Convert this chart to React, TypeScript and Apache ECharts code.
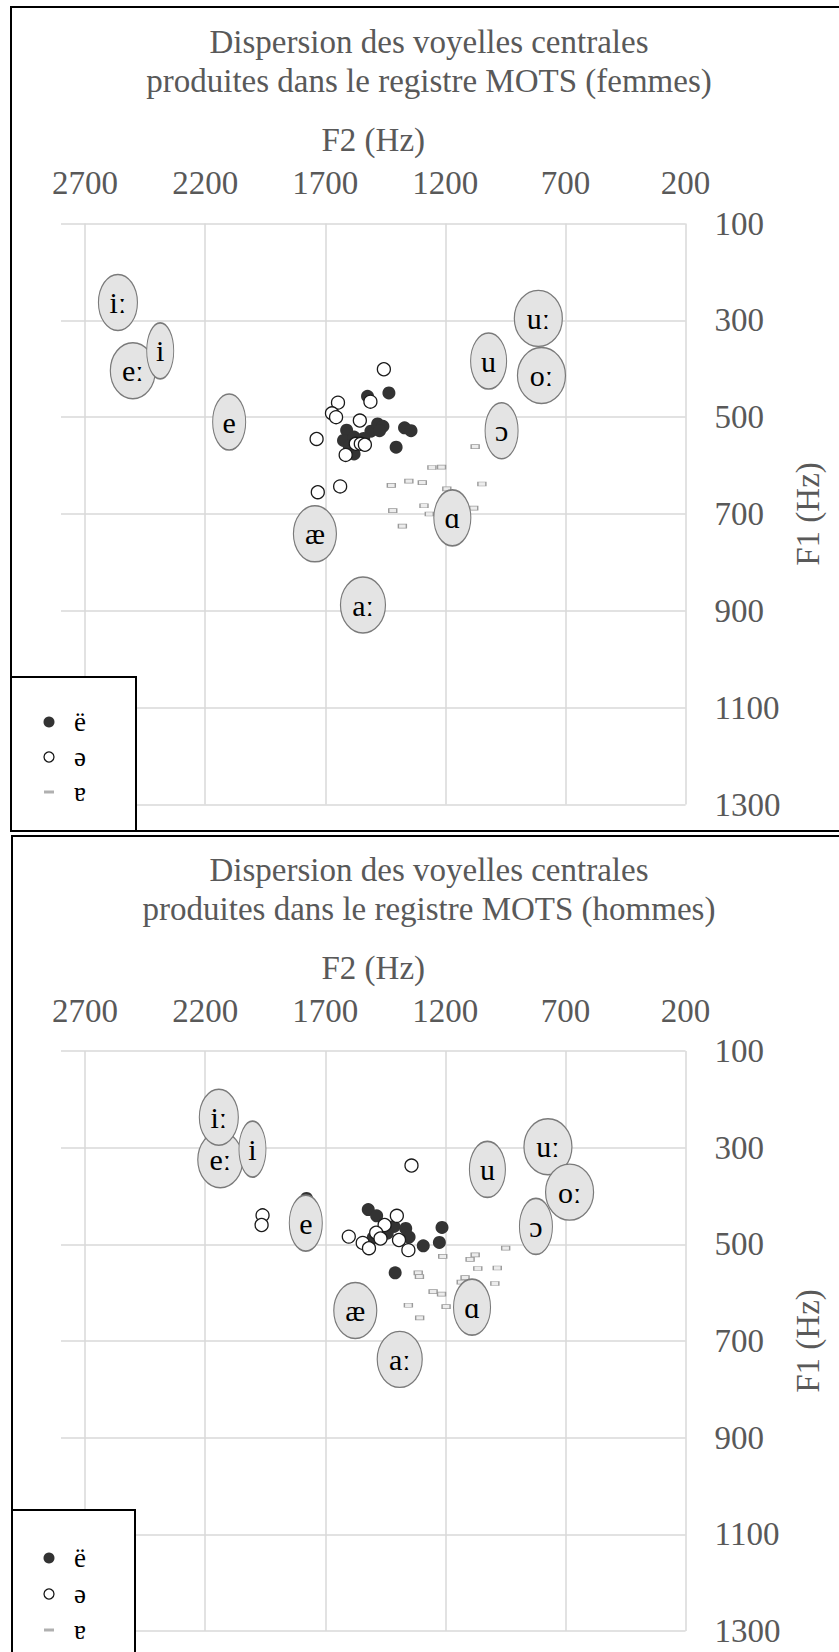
import React, { useEffect, useRef } from 'react';
import * as echarts from 'echarts';

// ---------- data ----------
const xTicks = [200, 700, 1200, 1700, 2200, 2700];
const yTicks = [100, 300, 500, 700, 900, 1100, 1300];
const chartTitles = [
  'Dispersion des voyelles centrales\nproduites dans le registre MOTS (femmes)',
  'Dispersion des voyelles centrales\nproduites dans le registre MOTS (hommes)',
];
const seriesNames = ['ë', 'ə', 'ɐ'];

// [F2, F1] in Hz
const femmesE = [[1435, 450], [1524, 457], [1611, 527], [1624, 548], [1580, 541], [1580, 576], [1510, 529], [1482, 514], [1460, 519], [1474, 528], [1370, 522], [1343, 528], [1405, 562], [1540, 544], [1600, 560]];
const femmesSchwa = [[1456, 401], [1647, 470], [1672, 492], [1655, 500], [1512, 468], [1556, 507], [1736, 545], [1573, 555], [1552, 555], [1535, 557], [1615, 578], [1731, 655], [1638, 643]];
const femmesTurnedA = [[1076, 561], [1256, 604], [1216, 603], [1425, 641], [1352, 632], [1296, 635], [1194, 648], [1048, 638], [1289, 683], [1419, 693], [1267, 700], [1082, 688], [1379, 725]];

const hommesE = [[1521, 428], [1486, 441], [1414, 463], [1365, 467], [1351, 485], [1214, 465], [1225, 496], [1292, 503], [1409, 559], [1442, 477], [1500, 486], [1778, 405]];
const hommesSchwa = [[1961, 440], [1965, 460], [1341, 337], [1602, 484], [1402, 441], [1453, 460], [1488, 476], [1544, 497], [1518, 508], [1470, 488], [1393, 491], [1354, 512]];
const hommesTurnedA = [[1211, 525], [1076, 522], [1097, 531], [949, 508], [1065, 550], [984, 549], [1313, 559], [1308, 567], [1118, 569], [1134, 578], [994, 581], [1251, 598], [1216, 603], [1354, 626], [1197, 629], [1307, 652]];

const vowelLabels = ['eː', 'iː', 'i', 'e', 'æ', 'aː', 'ɑ', 'ɔ', 'u', 'uː', 'oː'];
const femmesVowelF2 = [2501, 2563, 2387, 2100, 1743, 1543, 1171, 966, 1020, 813, 800];
const femmesVowelF1 = [404, 263, 363, 510, 741, 888, 708, 528, 384, 296, 414];
const hommesVowelF2 = [2137, 2143, 2003, 1781, 1575, 1390, 1089, 823, 1025, 773, 683];
const hommesVowelF1 = [325, 237, 303, 456, 637, 738, 630, 463, 345, 298, 392];

// ---------- styles ----------
const FONT = '"Liberation Serif", "Times New Roman", Times, serif';
const GRAY = '#595959';
const GRID_COLOR = '#d9d9d9';
const ellipseWidth: Record<string, number> = {
  'eː': 45, 'iː': 39, 'i': 27, 'e': 33, 'æ': 43, 'aː': 45, 'ɑ': 37, 'ɔ': 33, 'u': 36, 'uː': 48, 'oː': 48,
};
const ELLIPSE_H = 56;
const ELLIPSE_PATH = 'path://M0,50A50,50 0 1 1 100,50A50,50 0 1 1 0,50Z';

const grids = [
  { left: 61, top: 223.5, width: 624.6, height: 581 },
  { left: 61, top: 1051, width: 624.6, height: 580 },
];
const titleTops = [22, 850];
const frames = [
  { x: 11, y: 7, width: 900, height: 824 },
  { x: 12, y: 836, width: 900, height: 900 },
];
const legendBoxes = [
  { x: 11, y: 677, width: 125, height: 154, items: [722, 757, 792] },
  { x: 12, y: 1510, width: 123, height: 160, items: [1558, 1594, 1630] },
];

const datasets = [
  { e: femmesE, schwa: femmesSchwa, turned: femmesTurnedA, vf2: femmesVowelF2, vf1: femmesVowelF1 },
  { e: hommesE, schwa: hommesSchwa, turned: hommesTurnedA, vf2: hommesVowelF2, vf1: hommesVowelF1 },
];

function buildOption() {
  const axisText = { fontFamily: FONT, fontSize: 33, color: GRAY, lineHeight: 33 };
  const plain = (v: number) => String(v);
  const xAxis = grids.map((_, i) => ({
    type: 'value', gridIndex: i, position: 'top', inverse: true,
    min: 200, max: 2800, interval: 500,
    name: 'F2 (Hz)', nameLocation: 'middle', nameGap: 67,
    nameTextStyle: { ...axisText },
    axisLine: { show: false },
    axisTick: { show: false, customValues: xTicks },
    axisLabel: { ...axisText, margin: 24, customValues: xTicks, formatter: plain },
    splitLine: { show: true, lineStyle: { color: GRID_COLOR, width: 1.5 } },
  }));
  const yAxis = grids.map((_, i) => ({
    type: 'value', gridIndex: i, position: 'right', inverse: true,
    min: 100, max: 1300, interval: 200,
    name: 'F1 (Hz)', nameLocation: 'middle', nameGap: 104, nameRotate: 90,
    nameTextStyle: { ...axisText },
    axisLine: { show: false },
    axisTick: { show: false, customValues: yTicks },
    axisLabel: { ...axisText, margin: 29, customValues: yTicks, formatter: plain },
    splitLine: { show: true, lineStyle: { color: GRID_COLOR, width: 1.5 } },
  }));

  const series: any[] = [];
  datasets.forEach((d, i) => {
    series.push({
      type: 'scatter', name: seriesNames[0], xAxisIndex: i, yAxisIndex: i,
      symbol: 'circle', symbolSize: 13, data: d.e,
      itemStyle: { color: '#333333', opacity: 1 },
    });
    series.push({
      type: 'scatter', name: seriesNames[1], xAxisIndex: i, yAxisIndex: i,
      symbol: 'circle', symbolSize: 13, data: d.schwa,
      itemStyle: { color: '#ffffff', borderColor: '#1a1a1a', borderWidth: 1.3, opacity: 1 },
    });
    series.push({
      type: 'scatter', name: seriesNames[2], xAxisIndex: i, yAxisIndex: i,
      symbol: 'rect', symbolSize: [8, 4], data: d.turned,
      itemStyle: { color: '#ececec', borderColor: '#9a9a9a', borderWidth: 1, opacity: 1 },
    });
    series.push({
      type: 'scatter', name: 'voyelles', xAxisIndex: i, yAxisIndex: i,
      symbol: ELLIPSE_PATH, symbolKeepAspect: false,
      data: vowelLabels.map((l, k) => ({
        name: l, value: [d.vf2[k], d.vf1[k]], symbolSize: [ellipseWidth[l], ELLIPSE_H],
      })),
      itemStyle: { color: '#e4e4e4', borderColor: '#7a7a7a', borderWidth: 1.3, opacity: 1 },
      label: {
        show: true, position: 'inside', formatter: '{b}',
        fontFamily: FONT, fontSize: 30, color: '#000000',
      },
    });
  });

  const graphic: any[] = [];
  frames.forEach((f) => {
    graphic.push({
      type: 'rect', silent: true, z: 50,
      shape: { x: f.x, y: f.y, width: f.width, height: f.height },
      style: { fill: 'none', stroke: '#000000', lineWidth: 2 },
    });
  });
  legendBoxes.forEach((b) => {
    graphic.push({
      type: 'rect', silent: true, z: 60,
      shape: { x: b.x, y: b.y, width: b.width, height: b.height },
      style: { fill: '#ffffff', stroke: '#000000', lineWidth: 2 },
    });
    const [y0, y1, y2] = b.items;
    graphic.push({ type: 'circle', silent: true, z: 61, shape: { cx: 49, cy: y0, r: 5.5 }, style: { fill: '#333333' } });
    graphic.push({ type: 'circle', silent: true, z: 61, shape: { cx: 49, cy: y1, r: 5 }, style: { fill: '#ffffff', stroke: '#1a1a1a', lineWidth: 1.3 } });
    graphic.push({ type: 'rect', silent: true, z: 61, shape: { x: 44, y: y2 - 1.5, width: 10, height: 3 }, style: { fill: '#b0b0b0' } });
    b.items.forEach((cy, k) => {
      graphic.push({
        type: 'text', silent: true, z: 61, x: 74, y: cy,
        style: { text: seriesNames[k], fontFamily: FONT, fontSize: 27, fill: '#000000', align: 'left', verticalAlign: 'middle' },
      });
    });
  });

  return {
    animation: false,
    backgroundColor: '#ffffff',
    title: chartTitles.map((t, i) => ({
      text: t, left: 429, top: titleTops[i], textAlign: 'center', padding: 0,
      textStyle: { fontFamily: FONT, fontSize: 33, fontWeight: 'normal', color: GRAY, lineHeight: 39 },
    })),
    grid: grids.map((g) => ({ ...g, containLabel: false })),
    xAxis,
    yAxis,
    series,
    graphic,
  };
}

export default function App() {
  const ref = useRef<HTMLDivElement>(null);
  useEffect(() => {
    if (!ref.current) return;
    const chart = echarts.init(ref.current, null, { renderer: 'svg' });
    chart.setOption(buildOption() as any);
    return () => chart.dispose();
  }, []);
  return (
    <div
      ref={ref}
      style={{ position: 'absolute', left: 0, top: 0, width: 839, height: 1652, background: '#fff' }}
    />
  );
}
